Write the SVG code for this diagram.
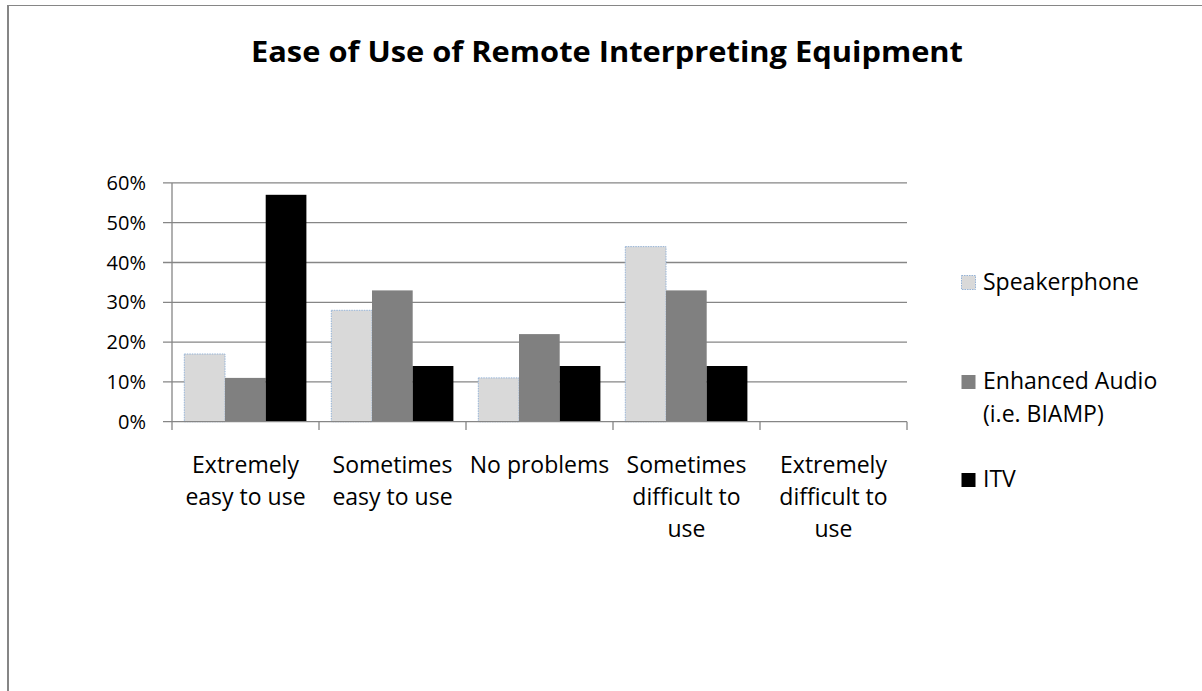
<svg xmlns="http://www.w3.org/2000/svg" width="1202" height="691" viewBox="0 0 1202 691">
<style>
.t{font-family:"Open Sans","Liberation Sans",sans-serif;fill:#000}
.title{font-size:28.5px;font-weight:bold}
.ax{font-size:23px;text-anchor:middle}
.yl{font-size:20px;text-anchor:end}
.lg{font-size:23px}
.grid{stroke:#868686;stroke-width:1.3;fill:none}
.sp{fill:#d9d9d9;stroke:#95b3d7;stroke-width:1;stroke-dasharray:1.5 1}
.ea{fill:#808080}
.itv{fill:#000}
</style>
<rect width="1202" height="691" fill="#fff"/>
<g id="frame">
<line x1="7" y1="5.5" x2="1202" y2="5.5" stroke="#868686" stroke-width="1"/>
<line x1="8" y1="5" x2="8" y2="691" stroke="#868686" stroke-width="2"/>
</g>
<text id="title" class="t title" x="607" y="62" text-anchor="middle" textLength="712" lengthAdjust="spacingAndGlyphs">Ease of Use of Remote Interpreting Equipment</text>
<g id="gridlines" class="grid">
<line x1="163" y1="182.9" x2="907" y2="182.9"/>
<line x1="163" y1="222.7" x2="907" y2="222.7"/>
<line x1="163" y1="262.5" x2="907" y2="262.5"/>
<line x1="163" y1="302.3" x2="907" y2="302.3"/>
<line x1="163" y1="342.1" x2="907" y2="342.1"/>
<line x1="163" y1="381.9" x2="907" y2="381.9"/>
</g>
<g id="y-labels" class="t yl">
<text x="146" y="190">60%</text>
<text x="146" y="229.8">50%</text>
<text x="146" y="269.6">40%</text>
<text x="146" y="309.4">30%</text>
<text x="146" y="349.2">20%</text>
<text x="146" y="389">10%</text>
<text x="146" y="428.8">0%</text>
</g>
<g id="bars">
<g id="cat1">
<rect class="sp" x="184.3" y="354" width="40.7" height="67.7"/>
<rect class="ea" x="225" y="377.9" width="40.7" height="43.8"/>
<rect class="itv" x="265.7" y="194.8" width="40.7" height="226.9"/>
</g>
<g id="cat2">
<rect class="sp" x="331.3" y="310.3" width="40.7" height="111.4"/>
<rect class="ea" x="372" y="290.4" width="40.7" height="131.3"/>
<rect class="itv" x="412.7" y="366" width="40.7" height="55.7"/>
</g>
<g id="cat3">
<rect class="sp" x="478.3" y="377.9" width="40.7" height="43.8"/>
<rect class="ea" x="519" y="334.1" width="40.7" height="87.6"/>
<rect class="itv" x="559.7" y="366" width="40.7" height="55.7"/>
</g>
<g id="cat4">
<rect class="sp" x="625.3" y="246.6" width="40.7" height="175.1"/>
<rect class="ea" x="666" y="290.4" width="40.7" height="131.3"/>
<rect class="itv" x="706.7" y="366" width="40.7" height="55.7"/>
</g>
</g>
<g id="axes" class="grid">
<line x1="163" y1="421.7" x2="907" y2="421.7"/>
<line x1="172" y1="182.9" x2="172" y2="430"/>
<line x1="319" y1="421.7" x2="319" y2="430"/>
<line x1="466" y1="421.7" x2="466" y2="430"/>
<line x1="613" y1="421.7" x2="613" y2="430"/>
<line x1="760" y1="421.7" x2="760" y2="430"/>
<line x1="907" y1="421.7" x2="907" y2="430"/>
</g>
<g id="x-labels" class="t ax">
<text x="245.5" y="473">Extremely</text>
<text x="245.5" y="505">easy to use</text>
<text x="392.5" y="473">Sometimes</text>
<text x="392.5" y="505">easy to use</text>
<text x="539.5" y="473">No problems</text>
<text x="686.5" y="473">Sometimes</text>
<text x="686.5" y="505">difficult to</text>
<text x="686.5" y="537">use</text>
<text x="833.5" y="473">Extremely</text>
<text x="833.5" y="505">difficult to</text>
<text x="833.5" y="537">use</text>
</g>
<g id="legend">
<g id="legend-speakerphone">
<rect class="sp" x="961.5" y="275.5" width="14" height="14"/>
<text class="t lg" x="983" y="290">Speakerphone</text>
</g>
<g id="legend-enhanced">
<rect class="ea" x="961.5" y="375" width="14" height="14"/>
<text class="t lg" x="983" y="389">Enhanced Audio</text>
<text class="t lg" x="983" y="422">(i.e. BIAMP)</text>
</g>
<g id="legend-itv">
<rect class="itv" x="961.5" y="473" width="14" height="14"/>
<text class="t lg" x="983" y="487">ITV</text>
</g>
</g>
</svg>
